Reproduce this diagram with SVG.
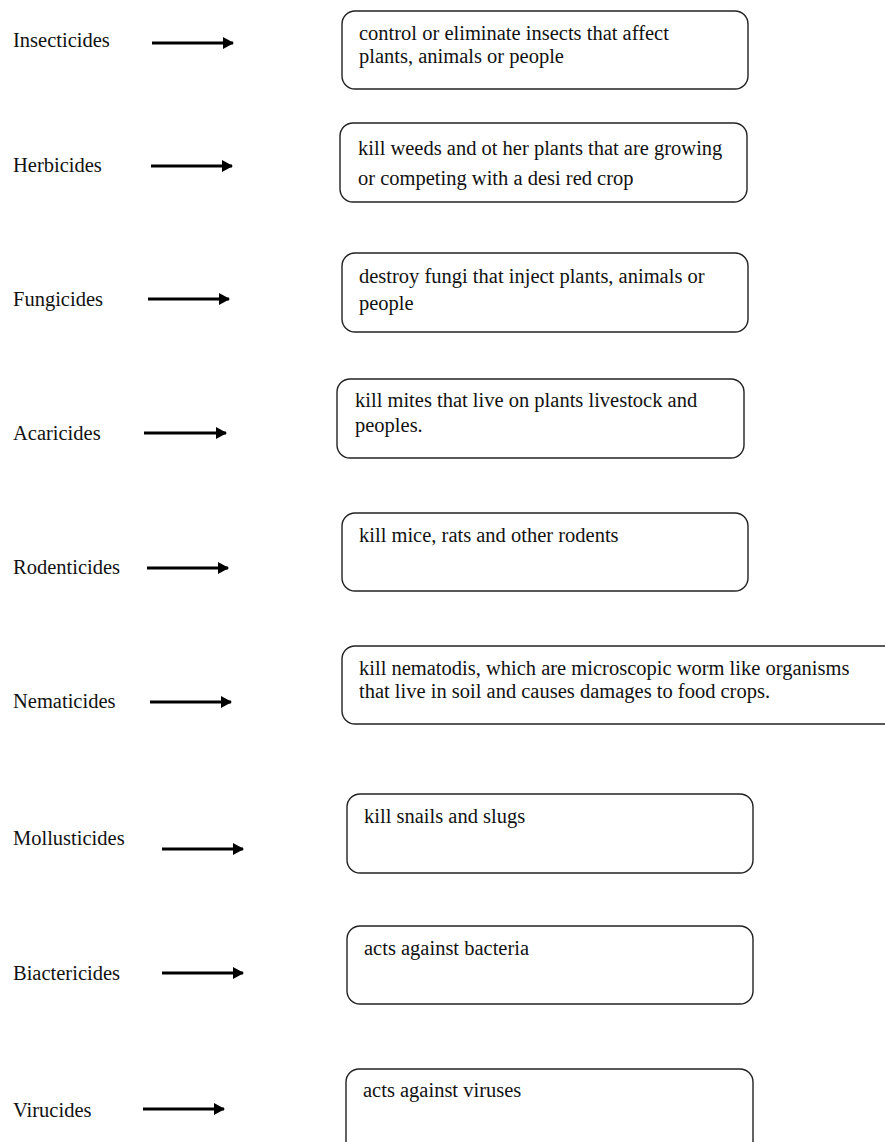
<svg xmlns="http://www.w3.org/2000/svg" width="885" height="1142" viewBox="0 0 885 1142">
<style>
  text { font-family: "Liberation Serif", "Times New Roman", serif; font-size: 20.5px; fill: #111; }
  .box { fill: #fff; stroke: #222; stroke-width: 1.4; }
  .arrow { stroke: #000; stroke-width: 3; fill: none; marker-end: url(#ah); }
</style>
<defs>
  <marker id="ah" viewBox="0 0 11 12" refX="10" refY="6" markerUnits="userSpaceOnUse" markerWidth="11" markerHeight="12" orient="auto">
    <path d="M0,0 L11,6 L0,12 Z" fill="#000"/>
  </marker>
</defs>
<rect width="885" height="1142" fill="#fff"/>

<g id="connectors">
  <line class="arrow" x1="152" y1="43" x2="233" y2="43"/>
  <line class="arrow" x1="151" y1="166" x2="232" y2="166"/>
  <line class="arrow" x1="148" y1="299" x2="229" y2="299"/>
  <line class="arrow" x1="144" y1="433" x2="226" y2="433"/>
  <line class="arrow" x1="147" y1="568" x2="228" y2="568"/>
  <line class="arrow" x1="150" y1="702" x2="231" y2="702"/>
  <line class="arrow" x1="162" y1="849" x2="243" y2="849"/>
  <line class="arrow" x1="162" y1="973" x2="243" y2="973"/>
  <line class="arrow" x1="143" y1="1109" x2="224" y2="1109"/>
</g>

<g id="label-insecticides"><text x="13" y="47">Insecticides</text></g>
<g id="label-herbicides"><text x="13" y="172">Herbicides</text></g>
<g id="label-fungicides"><text x="13" y="306">Fungicides</text></g>
<g id="label-acaricides"><text x="13" y="440">Acaricides</text></g>
<g id="label-rodenticides"><text x="13" y="574">Rodenticides</text></g>
<g id="label-nematicides"><text x="13" y="708">Nematicides</text></g>
<g id="label-mollusticides"><text x="13" y="845">Mollusticides</text></g>
<g id="label-biactericides"><text x="13" y="980">Biactericides</text></g>
<g id="label-virucides"><text x="13" y="1117">Virucides</text></g>

<g id="box-insecticides">
  <rect class="box" x="342" y="11" width="406" height="78" rx="13"/>
  <text x="359" y="40">control or eliminate insects that affect</text>
  <text x="359" y="63">plants, animals or people</text>
</g>
<g id="box-herbicides">
  <rect class="box" x="340" y="123" width="407" height="79" rx="13"/>
  <text x="358" y="155">kill weeds and ot her plants that are growing</text>
  <text x="358" y="185">or competing with a desi red crop</text>
</g>
<g id="box-fungicides">
  <rect class="box" x="342" y="253" width="406" height="79" rx="13"/>
  <text x="359" y="283">destroy fungi that inject plants, animals or</text>
  <text x="359" y="310">people</text>
</g>
<g id="box-acaricides">
  <rect class="box" x="337" y="379" width="407" height="79" rx="13"/>
  <text x="355" y="407">kill mites that live on plants livestock and</text>
  <text x="355" y="432">peoples.</text>
</g>
<g id="box-rodenticides">
  <rect class="box" x="342" y="513" width="406" height="78" rx="13"/>
  <text x="359" y="542">kill mice, rats and other rodents</text>
</g>
<g id="box-nematicides">
  <path class="box" d="M900,646 H355 A13,13 0 0 0 342,659 V711 A13,13 0 0 0 355,724 H900"/>
  <text x="359" y="675">kill nematodis, which are microscopic worm like organisms</text>
  <text x="359" y="698">that live in soil and causes damages to food crops.</text>
</g>
<g id="box-mollusticides">
  <rect class="box" x="347" y="794" width="406" height="79" rx="13"/>
  <text x="364" y="823">kill snails and slugs</text>
</g>
<g id="box-biactericides">
  <rect class="box" x="347" y="926" width="406" height="78" rx="13"/>
  <text x="364" y="955">acts against bacteria</text>
</g>
<g id="box-virucides">
  <rect class="box" x="346" y="1069" width="407" height="90" rx="13"/>
  <text x="363" y="1097">acts against viruses</text>
</g>
</svg>
